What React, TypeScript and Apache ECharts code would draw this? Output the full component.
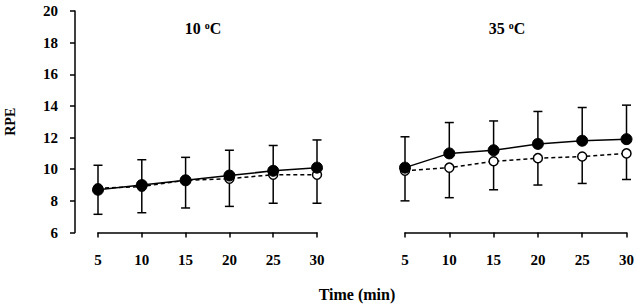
import React, { useEffect, useRef } from "react";
import * as echarts from "echarts";

// Time points (min)
const times = [5, 10, 15, 20, 25, 30];
const xTicks = [5, 10, 15, 20, 25, 30];
const yTicks = [6, 8, 10, 12, 14, 16, 18, 20];

// 10 °C panel
const cold_filled = [8.7, 9.0, 9.3, 9.6, 9.9, 10.1];
const cold_filled_sd = [1.55, 1.6, 1.45, 1.6, 1.6, 1.75];
const cold_open = [8.8, 8.9, 9.3, 9.4, 9.65, 9.65];
const cold_open_sd = [1.65, 1.65, 1.75, 1.75, 1.8, 1.8];

// 35 °C panel
const hot_filled = [10.1, 11.0, 11.2, 11.6, 11.8, 11.9];
const hot_filled_sd = [1.95, 1.95, 1.85, 2.05, 2.1, 2.15];
const hot_open = [9.9, 10.1, 10.5, 10.7, 10.8, 11.0];
const hot_open_sd = [1.9, 1.9, 1.8, 1.7, 1.7, 1.65];

const FONT = "'Liberation Serif', 'Times New Roman', serif";

function errData(means: number[], sds: number[], dir: number) {
  return times.map((t, i) => [t, means[i], means[i] + dir * sds[i]]);
}

function errSeries(idx: number, data: number[][]) {
  return {
    type: "custom",
    xAxisIndex: idx,
    yAxisIndex: idx,
    z: 1,
    renderItem: (params: any, api: any) => {
      const p0 = api.coord([api.value(0), api.value(1)]);
      const p1 = api.coord([api.value(0), api.value(2)]);
      const half = 4.5;
      const style = { stroke: "#000", lineWidth: 1.5 };
      return {
        type: "group",
        children: [
          { type: "line", shape: { x1: p0[0], y1: p0[1], x2: p1[0], y2: p1[1] }, style },
          { type: "line", shape: { x1: p1[0] - half, y1: p1[1], x2: p1[0] + half, y2: p1[1] }, style },
        ],
      };
    },
    data,
  };
}

function lineSeries(idx: number, values: number[], filled: boolean) {
  return {
    type: "line",
    xAxisIndex: idx,
    yAxisIndex: idx,
    z: filled ? 4 : 3,
    data: times.map((t, i) => [t, values[i]]),
    symbol: "circle",
    symbolSize: filled ? 11 : 9,
    lineStyle: { color: "#000", width: 1.5, type: filled ? "solid" : [4, 3] },
    itemStyle: filled
      ? { color: "#000", borderColor: "#000", borderWidth: 1 }
      : { color: "#fff", borderColor: "#000", borderWidth: 1.5 },
    showSymbol: true,
  };
}

function xAxis(idx: number) {
  return {
    type: "value",
    gridIndex: idx,
    min: 5,
    max: 30,
    interval: 5,
    axisLine: { show: true, onZero: false, lineStyle: { color: "#000", width: 1.5 } },
    axisTick: { show: true, inside: false, length: 5, lineStyle: { color: "#000", width: 1.5 } },
    axisLabel: {
      margin: 20,
      color: "#000",
      fontFamily: FONT,
      fontWeight: "bold",
      fontSize: 15,
      formatter: (v: number) => (xTicks.includes(v) ? String(v) : ""),
    },
    splitLine: { show: false },
  };
}

export default function App() {
  const ref = useRef<HTMLDivElement>(null);
  useEffect(() => {
    if (!ref.current) return;
    const chart = echarts.init(ref.current, null, { renderer: "svg" });
    const titleRich = {
      b: { fontFamily: FONT, fontWeight: "bold", fontSize: 16, color: "#000" },
      s: { fontFamily: FONT, fontWeight: "bold", fontSize: 10, color: "#000", verticalAlign: "top", padding: [0, 0, 6, 0] },
    } as any;
    chart.setOption({
      animation: false,
      backgroundColor: "#fff",
      grid: [
        { left: 98, top: 11, width: 219, height: 221.5 },
        { left: 405, top: 11, width: 222, height: 221.5 },
      ],
      xAxis: [xAxis(0), xAxis(1)],
      yAxis: [
        {
          type: "value",
          gridIndex: 0,
          min: 6,
          max: 20,
          interval: 2,
          offset: 23,
          axisLine: { show: true, lineStyle: { color: "#000", width: 1.5 } },
          axisTick: { show: true, length: 5, lineStyle: { color: "#000", width: 1.5 } },
          axisLabel: {
            margin: 17,
            color: "#000",
            fontFamily: FONT,
            fontWeight: "bold",
            fontSize: 15,
            formatter: (v: number) => (yTicks.includes(v) ? String(v) : ""),
          },
          splitLine: { show: false },
          name: "RPE",
          nameLocation: "middle",
          nameGap: 58,
          nameRotate: 90,
          nameTextStyle: { color: "#000", fontFamily: FONT, fontWeight: "bold", fontSize: 14 },
        },
        {
          type: "value",
          gridIndex: 1,
          min: 6,
          max: 20,
          interval: 2,
          show: false,
          splitLine: { show: false },
        },
      ],
      graphic: [
        {
          type: "text",
          x: 203,
          y: 28,
          style: {
            text: "{b|10 }{s|o}{b|C}",
            rich: titleRich,
            align: "center",
            verticalAlign: "middle",
          },
        },
        {
          type: "text",
          x: 507,
          y: 28,
          style: {
            text: "{b|35 }{s|o}{b|C}",
            rich: titleRich,
            align: "center",
            verticalAlign: "middle",
          },
        },
        {
          type: "text",
          x: 357,
          y: 294,
          style: {
            text: "Time (min)",
            fontFamily: FONT,
            fontWeight: "bold",
            fontSize: 16,
            fill: "#000",
            align: "center",
            verticalAlign: "middle",
          },
        },
      ],
      series: [
        errSeries(0, errData(cold_filled, cold_filled_sd, 1)),
        errSeries(0, errData(cold_open, cold_open_sd, -1)),
        lineSeries(0, cold_open, false),
        lineSeries(0, cold_filled, true),
        errSeries(1, errData(hot_filled, hot_filled_sd, 1)),
        errSeries(1, errData(hot_open, hot_open_sd, -1)),
        lineSeries(1, hot_open, false),
        lineSeries(1, hot_filled, true),
      ],
    });
    return () => chart.dispose();
  }, []);
  return (
    <div
      ref={ref}
      style={{ position: "fixed", left: 0, top: 0, width: 637, height: 307, background: "#fff" }}
    />
  );
}
